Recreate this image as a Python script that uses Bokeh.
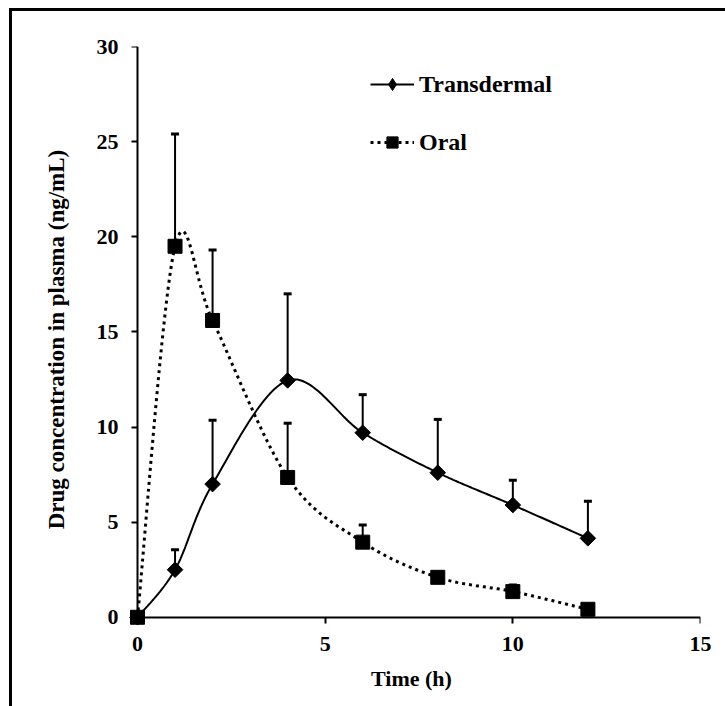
from bokeh.plotting import figure
from bokeh.models import (Range1d, Whisker, ColumnDataSource, Legend, LegendItem,
                          TeeHead, FixedTicker, LinearAxis)
from bokeh.embed import file_html
from bokeh.resources import INLINE
import numpy as np

# ---- data ----
time_h = [0, 1, 2, 4, 6, 8, 10, 12]
transdermal = [0, 2.5, 7.0, 12.45, 9.7, 7.6, 5.9, 4.15]
transdermal_upper = [0, 3.55, 10.35, 17.0, 11.7, 10.4, 7.2, 6.1]
oral = [0, 19.5, 15.6, 7.35, 3.95, 2.1, 1.35, 0.42]
oral_upper = [0, 25.4, 19.3, 10.2, 4.85, 2.1, 1.7, 0.42]
x_ticks = [0, 5, 10, 15]
y_ticks = [0, 5, 10, 15, 20, 25, 30]
series_names = ["Transdermal", "Oral"]
x_title = "Time (h)"
y_title = "Drug concentration in plasma (ng/mL)"

FONT = "Liberation Serif"


def smoothed(xs, ys, n=40):
    """Spreadsheet-style smoothed line (Catmull-Rom Bezier) through the points."""
    P = np.column_stack([xs, ys]).astype(float)
    m = len(P)
    ox, oy = [], []
    for i in range(m - 1):
        p0 = P[i - 1] if i > 0 else P[i]
        p1 = P[i]
        p2 = P[i + 1]
        p3 = P[i + 2] if i + 2 < m else P[i + 1]
        c1 = p1 + (p2 - p0) / 6.0
        c2 = p2 - (p3 - p1) / 6.0
        t = np.linspace(0, 1, n)[:, None]
        b = ((1 - t) ** 3) * p1 + 3 * ((1 - t) ** 2) * t * c1 + 3 * (1 - t) * t ** 2 * c2 + t ** 3 * p2
        ox.extend(b[:, 0]); oy.extend(b[:, 1])
    return ox, oy


p = figure(frame_width=578, frame_height=586,
           x_range=Range1d(-0.4, 15.0), y_range=Range1d(-0.8, 30.0),
           output_backend="svg", toolbar_location=None,
           min_border_left=110, min_border_right=25, min_border_top=35, min_border_bottom=74)
p.grid.visible = False
p.outline_line_color = None
p.background_fill_color = "white"
p.border_fill_color = "white"
p.margin = (8, 0, 0, 9)
p.styles = {"border-top": "3px solid black", "border-left": "3px solid black",
            "background-color": "white"}

# label axes (at the frame edges): only texts
for ax in (p.xaxis[0], p.yaxis[0]):
    ax.axis_line_color = None
    ax.major_tick_line_color = None
    ax.minor_tick_line_color = None
    ax.major_tick_out = 0
    ax.major_tick_in = 0
    ax.minor_tick_out = 0
    ax.minor_tick_in = 0
    ax.major_label_text_font = FONT
    ax.major_label_text_font_style = "bold"
    ax.major_label_text_font_size = "22px"
    ax.major_label_text_color = "black"
    ax.axis_label_text_font = FONT
    ax.axis_label_text_font_style = "bold"
    ax.axis_label_text_color = "black"
p.xaxis.axis_label_text_font_size = "22px"
p.yaxis.axis_label_text_font_size = "23px"
p.xaxis.ticker = FixedTicker(ticks=x_ticks)
p.yaxis.ticker = FixedTicker(ticks=y_ticks)
p.xaxis.major_label_standoff = 4
p.yaxis.major_label_standoff = 4
p.xaxis.axis_label = x_title
p.yaxis.axis_label = y_title
p.xaxis.axis_label_standoff = 12
p.yaxis.axis_label_standoff = 25

# axis lines with ticks crossing at the origin
for dim, place in (("x", "below"), ("y", "left")):
    rule = LinearAxis(fixed_location=0,
                      ticker=FixedTicker(ticks=x_ticks if dim == "x" else y_ticks),
                      bounds=(0, 15) if dim == "x" else (0, 30),
                      axis_line_width=2, axis_line_color="black",
                      major_tick_line_width=2, major_tick_line_color="black",
                      major_tick_out=6, major_tick_in=0,
                      minor_tick_line_color=None, minor_tick_out=0, minor_tick_in=0,
                      major_label_text_font_size="0px", major_label_standoff=0,
                      major_label_text_color=None)
    p.add_layout(rule, place)

# curves
tdx, tdy = smoothed(time_h, transdermal)
orx, ory = smoothed(time_h, oral)
r_td_line = p.line(tdx, tdy, line_color="black", line_width=2)
r_or_line = p.line(orx, ory, line_color="black", line_width=3, line_dash="3 4")


def err_source(xs, ys, ups):
    keep = [i for i in range(len(xs)) if ups[i] > ys[i] + 1e-9]
    return ColumnDataSource(dict(x=[xs[i] for i in keep], y=[ys[i] for i in keep],
                                 upper=[ups[i] for i in keep]))


for ys, ups in ((transdermal, transdermal_upper), (oral, oral_upper)):
    w = Whisker(base="x", lower="y", upper="upper", source=err_source(time_h, ys, ups),
                dimension="height", line_color="black", line_width=2,
                lower_head=None,
                upper_head=TeeHead(size=8, line_width=3, line_color="black"))
    p.add_layout(w)

r_td_mark = p.scatter(time_h, transdermal, marker="square", angle=np.pi / 4, size=11,
                      fill_color="black", line_color="black")
r_or_mark = p.scatter(time_h, oral, marker="square", size=14,
                      fill_color="black", line_color="black")
# diamond key symbol for the legend (hidden in the plot itself)
r_td_key = p.scatter(time_h, transdermal, marker="diamond",
                     fill_color="black", line_color="black", visible=False)

common = dict(orientation="vertical", border_line_color=None, background_fill_alpha=0,
              inactive_fill_alpha=0,
              padding=0, margin=0, spacing=0, glyph_width=44, label_height=28,
              label_standoff=5, label_text_font=FONT, label_text_font_style="bold",
              label_text_font_size="24px", label_text_color="black")
leg1 = Legend(items=[LegendItem(label=series_names[0], renderers=[r_td_line, r_td_key])],
              location=(248, 533), glyph_height=30, **common)
leg2 = Legend(items=[LegendItem(label=series_names[1], renderers=[r_or_line, r_or_mark])],
              location=(248, 476), glyph_height=28, **common)
p.add_layout(leg1)
p.add_layout(leg2)

open("out.html", "w").write(file_html(p, INLINE))
